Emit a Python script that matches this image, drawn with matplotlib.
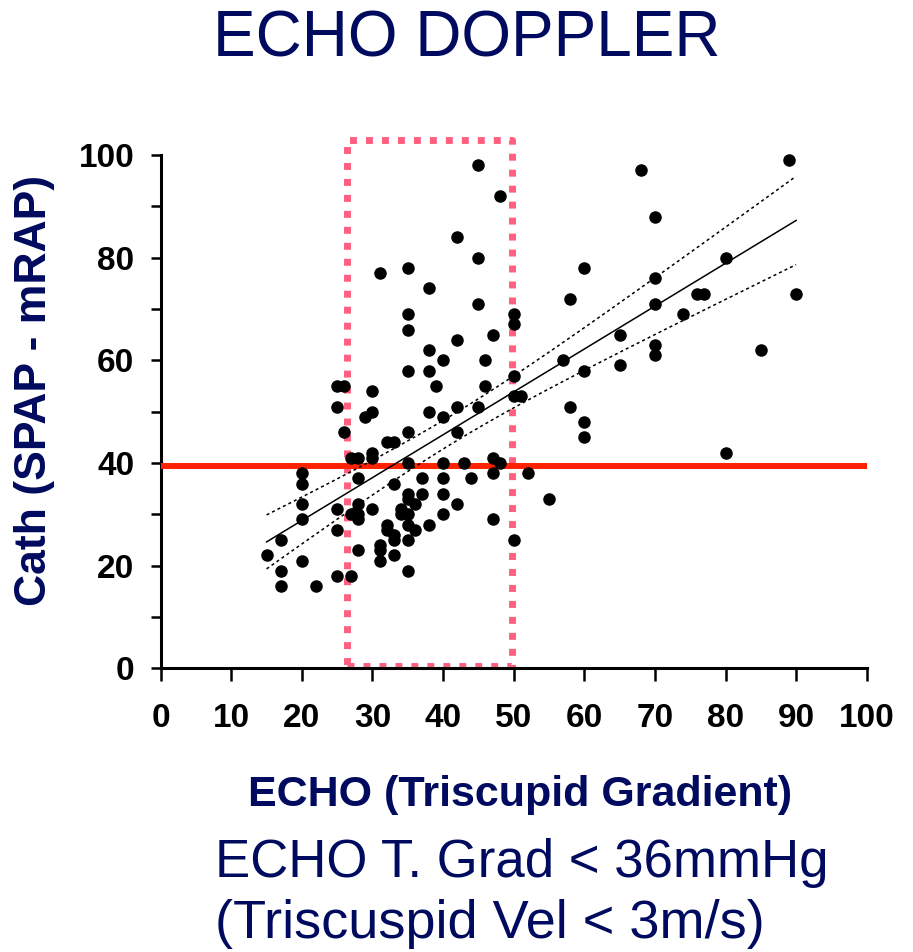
#!/usr/bin/env python
import numpy as np
import matplotlib
matplotlib.use('Agg')
import matplotlib.pyplot as plt

plt.rcParams['font.family'] = ['Liberation Sans', 'DejaVu Sans']

# echo gradient (x) vs cath SPAP - mRAP (y)
echo = [45, 48, 42, 45, 31, 35, 38, 45, 35, 35, 50, 50, 47, 42, 38, 40, 46, 35, 38,
        25, 26, 30, 39, 46, 50, 50, 51,
        89, 68, 70, 60, 58, 70, 70, 80, 76, 77, 90, 74, 65, 70, 70, 85, 65, 57, 60,
        58, 60, 60, 80, 52, 55, 50, 48,
        25, 30, 29, 26, 32, 27, 28, 30, 30, 20, 20, 28, 20, 25, 28, 30, 27, 28, 28,
        20, 17, 25, 15, 28, 20, 17, 25, 27, 17, 22,
        38, 40, 42, 45, 35, 42, 33, 35, 40, 43, 47, 37, 40, 44, 47, 33, 35, 35, 36,
        37, 40, 42, 34, 34, 35, 40, 32, 32, 33, 33, 35, 36, 38, 35, 47, 31, 31, 31,
        33, 35]
cath = [98, 92, 84, 80, 77, 78, 74, 71, 69, 66, 69, 67, 65, 64, 62, 60, 60, 58, 58,
        55, 55, 54, 55, 55, 57, 53, 53,
        99, 97, 88, 78, 72, 76, 71, 80, 73, 73, 73, 69, 65, 63, 61, 62, 59, 60, 58,
        51, 48, 45, 42, 38, 33, 25, 40,
        51, 50, 49, 46, 44, 41, 41, 42, 41, 38, 36, 37, 32, 31, 32, 31, 30, 30, 29,
        29, 25, 27, 22, 23, 21, 19, 18, 18, 16, 16,
        50, 49, 51, 51, 46, 46, 44, 40, 40, 40, 41, 37, 37, 37, 38, 36, 34, 33, 32,
        34, 34, 32, 31, 30, 30, 30, 28, 27, 26, 25, 28, 27, 28, 25, 29, 24, 23, 21,
        22, 19]

# regression shown on the chart
fit_slope = 0.835
fit_icpt = 12.1

cutoff = 39.5                 # horizontal red line
box_x = [26.4, 49.8]          # pink dotted window
box_y = [0.5, 103]

navy = '#000a5e'

x = np.array(echo, dtype=float)
y = np.array(cath, dtype=float)
n = len(x)
res = y - (fit_slope * x + fit_icpt)
s = np.sqrt(np.sum(res ** 2) / (n - 2))
sxx = np.sum((x - x.mean()) ** 2)
xf = np.linspace(x.min(), x.max(), 200)
yf = fit_slope * xf + fit_icpt
half = 1.98 * s * np.sqrt(1.0 / n + (xf - x.mean()) ** 2 / sxx)

fig = plt.figure(figsize=(9.13, 9.52), dpi=100)
ax = fig.add_axes([0.176, 0.298, 0.7733, 0.5392])

ax.plot(box_x + box_x[::-1] + box_x[:1], [box_y[0], box_y[0], box_y[1], box_y[1], box_y[0]],
        color='#ff6080', lw=5, linestyle=(0, (1, 1.3)), dash_capstyle='butt', clip_on=False, zorder=2)
ax.plot([0, 100], [cutoff, cutoff], color='#ff2200', lw=4.3, solid_capstyle='butt', zorder=3)
ax.plot(x, y, 'o', color='black', ms=8, clip_on=False, zorder=4)
ax.plot(xf, yf, color='black', lw=1.1, zorder=5)
ax.plot(xf, yf + half, color='black', lw=1.1, linestyle=(0, (2, 2)), zorder=5)
ax.plot(xf, yf - half, color='black', lw=1.1, linestyle=(0, (2, 2)), zorder=5)

ax.set_xlim(0, 100)
ax.set_ylim(0, 100)
ax.set_xticks(np.arange(0, 101, 10))
ax.set_yticks(np.arange(0, 101, 20))
ax.set_yticks(np.arange(10, 100, 20), minor=True)
ax.spines['top'].set_visible(False)
ax.spines['right'].set_visible(False)
for sp in ['left', 'bottom']:
    ax.spines[sp].set_linewidth(2.2)
ax.tick_params(axis='x', which='major', length=9, width=1.8, pad=16, labelsize=24)
ax.tick_params(axis='y', which='both', length=7, width=1.8, pad=12, labelsize=24)
for lab in ax.get_xticklabels() + ax.get_yticklabels():
    lab.set_fontweight('bold')

fig.text(0.5115, 0.958, 'ECHO DOPPLER', ha='center', va='center', fontsize=46, color=navy)
fig.text(0.038, 0.590, 'Cath (SPAP - mRAP)', ha='center', va='center', rotation=90,
         fontsize=32, fontweight='bold', color=navy)
fig.text(0.570, 0.165, 'ECHO (Triscupid Gradient)', ha='center', va='center',
         fontsize=31, fontweight='bold', color=navy)
fig.text(0.235, 0.094, 'ECHO T. Grad < 36mmHg', ha='left', va='center', fontsize=38, color=navy)
fig.text(0.235, 0.029, '(Triscuspid Vel < 3m/s)', ha='left', va='center', fontsize=39, color=navy)

fig.savefig('out.png', dpi=100)
